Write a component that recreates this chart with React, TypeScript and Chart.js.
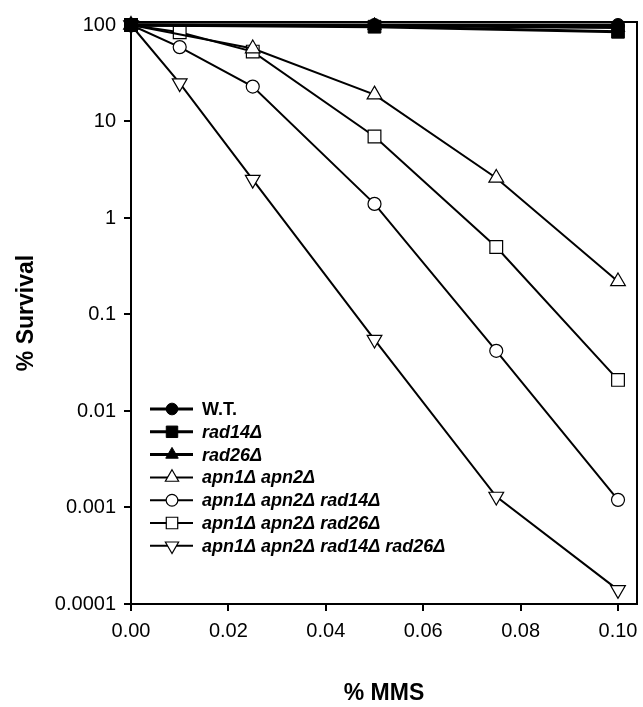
import React, { useEffect, useRef } from "react";
import { Chart, registerables } from "chart.js";
import { drawPoint } from "chart.js/helpers";

Chart.register(...registerables);

const doses = [0, 0.01, 0.025, 0.05, 0.075, 0.1];
const dosesFilled = [0, 0.05, 0.1];
const dosesApn = [0, 0.025, 0.05, 0.075, 0.1];

const wt = [100, 100, 100];
const rad14 = [100, 96, 85];
const rad26 = [100, 99, 94];
const apn12 = [100, 57, 19, 2.6, 0.22];
const apn12rad14 = [100, 59, 23, 1.4, 0.042, 0.0012];
const apn12rad26 = [100, 84, 53, 7, 0.5, 0.021];
const apn12rad14rad26 = [100, 25, 2.5, 0.055, 0.0013, 0.00014];

const xTicks = [0, 0.02, 0.04, 0.06, 0.08, 0.1];
const yTicks = [100, 10, 1, 0.1, 0.01, 0.001, 0.0001];
const yTickLabels = ["100", "10", "1", "0.1", "0.01", "0.001", "0.0001"];

const legendLabels = [
  "W.T.",
  "rad14Δ",
  "rad26Δ",
  "apn1Δ apn2Δ",
  "apn1Δ apn2Δ rad14Δ",
  "apn1Δ apn2Δ rad26Δ",
  "apn1Δ apn2Δ rad14Δ rad26Δ",
];

const FONT = "'Liberation Sans', Arial, Helvetica, sans-serif";

function mk(xs: number[], ys: number[]) {
  return xs.map((x, i) => ({ x, y: ys[i] }));
}

export default function App() {
  const ref = useRef<HTMLCanvasElement | null>(null);

  useEffect(() => {
    if (!ref.current) return;
    const filled = (label: string, xs: number[], ys: number[], style: string, r: number, italic: boolean) => ({
      label,
      data: mk(xs, ys),
      borderColor: "#000",
      backgroundColor: "#000",
      pointBackgroundColor: "#000",
      pointBorderColor: "#000",
      borderWidth: 3,
      pointStyle: style,
      pointRadius: r,
      pointBorderWidth: 1,
      clip: false as any,
      italic,
    });
    const open = (label: string, xs: number[], ys: number[], style: string, r: number, rot = 0) => ({
      label,
      data: mk(xs, ys),
      borderColor: "#000",
      backgroundColor: "#fff",
      pointBackgroundColor: "#fff",
      pointBorderColor: "#000",
      borderWidth: 2,
      pointStyle: style,
      pointRadius: r,
      pointRotation: rot,
      pointBorderWidth: 1.2,
      clip: false as any,
      italic: true,
    });

    const datasets: any[] = [
      filled(legendLabels[0], dosesFilled, wt, "circle", 6.5, false),
      filled(legendLabels[1], dosesFilled, rad14, "rect", 9, true),
      filled(legendLabels[2], dosesFilled, rad26, "triangle", 8, true),
      open(legendLabels[3], dosesApn, apn12, "triangle", 8.5),
      open(legendLabels[4], doses, apn12rad14, "circle", 6.5),
      open(legendLabels[5], doses, apn12rad26, "rect", 9),
      open(legendLabels[6], doses, apn12rad14rad26, "triangle", 8.5, 180),
    ];

    const framePlugin = {
      id: "frame",
      afterDatasetsDraw(chart: any) {
        const { ctx, chartArea: a } = chart;
        ctx.save();
        ctx.strokeStyle = "#000";
        ctx.lineWidth = 2;
        ctx.strokeRect(a.left, a.top, a.right - a.left, a.bottom - a.top);
        ctx.restore();
      },
    };

    const legendPlugin = {
      id: "customLegend",
      afterDraw(chart: any) {
        const { ctx } = chart;
        const x0 = 150;
        const x1 = 193;
        const xm = 172;
        const xt = 202;
        const y0 = 409;
        const dy = 22.8;
        ctx.save();
        chart.data.datasets.forEach((ds: any, i: number) => {
          const y = y0 + i * dy;
          ctx.strokeStyle = "#000";
          ctx.lineWidth = i < 3 ? 3 : 2;
          ctx.beginPath();
          ctx.moveTo(x0, y);
          ctx.lineTo(x1, y);
          ctx.stroke();
          ctx.fillStyle = ds.pointBackgroundColor;
          ctx.strokeStyle = "#000";
          ctx.lineWidth = ds.pointBorderWidth;
          drawPoint(ctx, {
            pointStyle: ds.pointStyle,
            rotation: ds.pointRotation || 0,
            borderWidth: ds.pointBorderWidth,
            radius: ds.pointRadius * 0.9,
          } as any, xm, y);
          ctx.fillStyle = "#000";
          ctx.font = `${ds.italic ? "italic " : ""}bold 18px ${FONT}`;
          ctx.textAlign = "left";
          ctx.textBaseline = "middle";
          ctx.fillText(ds.label, xt, y + 1);
        });
        ctx.restore();
      },
    };

    const chart = new Chart(ref.current, {
      type: "line",
      data: { datasets },
      plugins: [framePlugin, legendPlugin],
      options: {
        animation: false,
        responsive: false,
        devicePixelRatio: 1,
        layout: { autoPadding: false, padding: { left: 0, top: 22, right: 6, bottom: 0 } },
        plugins: { legend: { display: false }, tooltip: { enabled: false } },
        scales: {
          x: {
            type: "linear",
            min: 0,
            max: 0.1039,
            afterBuildTicks: (s: any) => {
              s.ticks = xTicks.map((v) => ({ value: v }));
            },
            afterFit: (s: any) => {
              s.height = 103;
              s.paddingLeft = 0;
              s.paddingRight = 0;
            },
            ticks: {
              color: "#000",
              font: { family: FONT, size: 20 },
              padding: 8,
              maxRotation: 0,
              callback: (v: any) => Number(v).toFixed(2),
            },
            grid: { display: true, drawOnChartArea: false, drawTicks: true, tickLength: 7, color: "#000", lineWidth: 2 },
            border: { display: true, color: "#000", width: 2 },
            title: {
              display: true,
              text: "% MMS",
              color: "#000",
              font: { family: FONT, size: 23, weight: "bold" },
              padding: { top: 0, bottom: 0 },
            },
          },
          y: {
            type: "logarithmic",
            min: 0.0001,
            max: 107.4,
            afterBuildTicks: (s: any) => {
              s.ticks = yTicks.map((v) => ({ value: v }));
            },
            afterFit: (s: any) => {
              s.width = 131;
              s.paddingTop = 0;
              s.paddingBottom = 0;
            },
            ticks: {
              color: "#000",
              font: { family: FONT, size: 20 },
              padding: 8,
              callback: (v: any) => {
                const i = yTicks.findIndex((t) => Math.abs(Math.log10(t) - Math.log10(Number(v))) < 1e-6);
                return i >= 0 ? yTickLabels[i] : "";
              },
            },
            grid: { display: true, drawOnChartArea: false, drawTicks: true, tickLength: 7, color: "#000", lineWidth: 2 },
            border: { display: true, color: "#000", width: 2 },
            title: {
              display: true,
              text: "% Survival",
              color: "#000",
              font: { family: FONT, size: 23, weight: "bold" },
              padding: { top: 13, bottom: 0 },
            },
          },
        },
        elements: { line: { tension: 0 } },
      } as any,
    });
    return () => chart.destroy();
  }, []);

  return (
    <div style={{ position: "fixed", left: 0, top: 0, width: 643, height: 707, background: "#fff" }}>
      <canvas ref={ref} width={643} height={707} style={{ width: 643, height: 707, display: "block" }} />
    </div>
  );
}
